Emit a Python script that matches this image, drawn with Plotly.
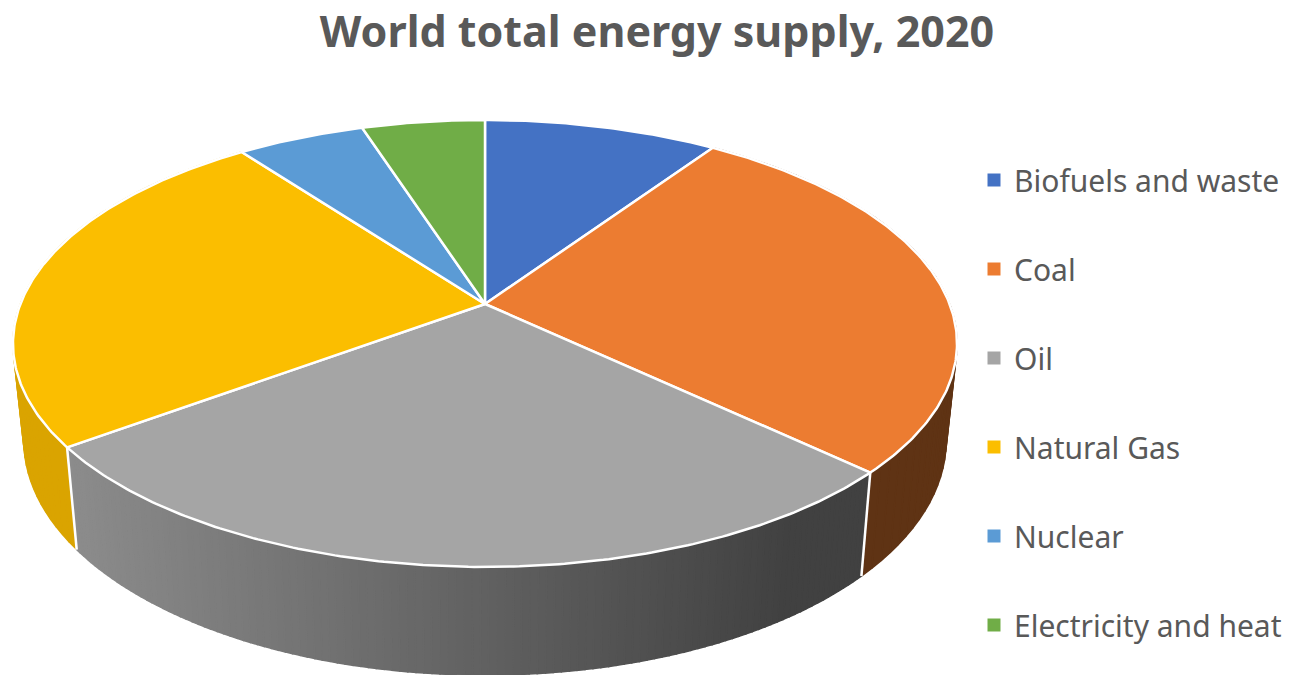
import numpy as np
import plotly.graph_objects as go

TITLE = "World total energy supply, 2020"
categories = ["Biofuels and waste", "Coal", "Oil", "Natural Gas", "Nuclear", "Electricity and heat"]
shares = [9.5, 27.5, 27.9, 24.9, 5.2, 5.0]
top_colors = ["#4472C4", "#EC7C31", "#A5A5A5", "#FBBE00", "#5B9BD5", "#70AD47"]

W, H = 1291, 675
CX, CY = 485.0, 304.0      # apex of the pie on screen
A, B, K = 464.6, 216.5, 0.1767   # perspective projection of the unit disc
SX, SY, DY = 0.977, 1.05, 95.0   # how the bottom disc relates to the top disc


def top(theta):
    d = 1 + K * np.cos(theta)
    return CX + A * np.sin(theta) / d, CY - B * np.cos(theta) / d


def bottom(theta):
    x, y = top(theta)
    return CX + (x - CX) * SX, CY + DY + (y - CY) * SY


def arc(t0, t1):
    n = max(int(abs(t1 - t0) / 0.01), 2)
    return np.linspace(t0, t1, n)


edges = 2 * np.pi * np.r_[0, np.cumsum(shares)] / np.sum(shares)
fig = go.Figure()


def add_strip(t0, t1, color):
    xt0, yt0 = top(t0)
    xt1, yt1 = top(t1)
    xb0, yb0 = bottom(t0)
    xb1, yb1 = bottom(t1)
    fig.add_trace(go.Scatter(x=[xt0, xt1, xb1, xb0, xt0], y=[yt0, yt1, yb1, yb0, yt0],
                             mode="lines", fill="toself", fillcolor=color,
                             line=dict(color=color, width=1.5), hoverinfo="skip", showlegend=False))


def add_wall(t0, t1, n, color_fn):
    s = np.linspace(t0, t1, n)
    for a, b in zip(s[:-1], s[1:]):
        add_strip(a, b, color_fn(top((a + b) / 2)[0]))


# Side walls
add_wall(edges[1], edges[2], 50, lambda x: "#5F3314")
add_wall(edges[3], edges[4], 50, lambda x: "#DAA400")

left_x, right_x = top(edges[3])[0], 790.0


def grey(x):
    f = np.clip((x - left_x) / (right_x - left_x), 0, 1)
    v = int(round(140 + (65 - 140) * f))
    return f"rgb({v},{v},{v})"


add_wall(edges[2], edges[3], 120, grey)

# White vertical seams
for e in (edges[2], edges[3]):
    xt, yt = top(e)
    xb, yb = bottom(e)
    fig.add_trace(go.Scatter(x=[xt, xb], y=[yt, yb], mode="lines",
                             line=dict(color="white", width=2.5), hoverinfo="skip", showlegend=False))

# Top faces
for i, (name, color) in enumerate(zip(categories, top_colors)):
    t = arc(edges[i], edges[i + 1])
    x, y = top(t)
    fig.add_trace(go.Scatter(x=np.r_[CX, x, CX], y=np.r_[CY, y, CY], mode="lines", fill="toself",
                             fillcolor=color, line=dict(color="white", width=2.5),
                             name=name, legendgroup=name, showlegend=False,
                             hovertemplate=f"{name}: {shares[i]}%<extra></extra>"))
    fig.add_trace(go.Scatter(x=[None], y=[None], mode="markers", name=name, legendgroup=name,
                             marker=dict(symbol="square", size=13, color=color)))

fig.update_layout(
    width=W, height=H, autosize=False,
    margin=dict(l=0, r=0, t=0, b=0),
    paper_bgcolor="white", plot_bgcolor="white",
    xaxis=dict(range=[0, W], visible=False, fixedrange=True),
    yaxis=dict(range=[H, 0], visible=False, fixedrange=True),
    title=dict(text=TITLE, x=657 / W, xanchor="center", y=1 - 32 / H, yanchor="middle",
               font=dict(family="Noto Sans", size=43, color="#595959", weight="bold")),
    legend=dict(x=974 / W, xanchor="left", y=1 - 154 / H, yanchor="top",
                font=dict(family="Noto Sans", size=30, color="#595959"),
                tracegroupgap=47, bgcolor="rgba(0,0,0,0)", traceorder="grouped"),
)
fig.write_html("out.html", config=dict(displayModeBar=False),
               post_script="document.body.style.margin='0';")
